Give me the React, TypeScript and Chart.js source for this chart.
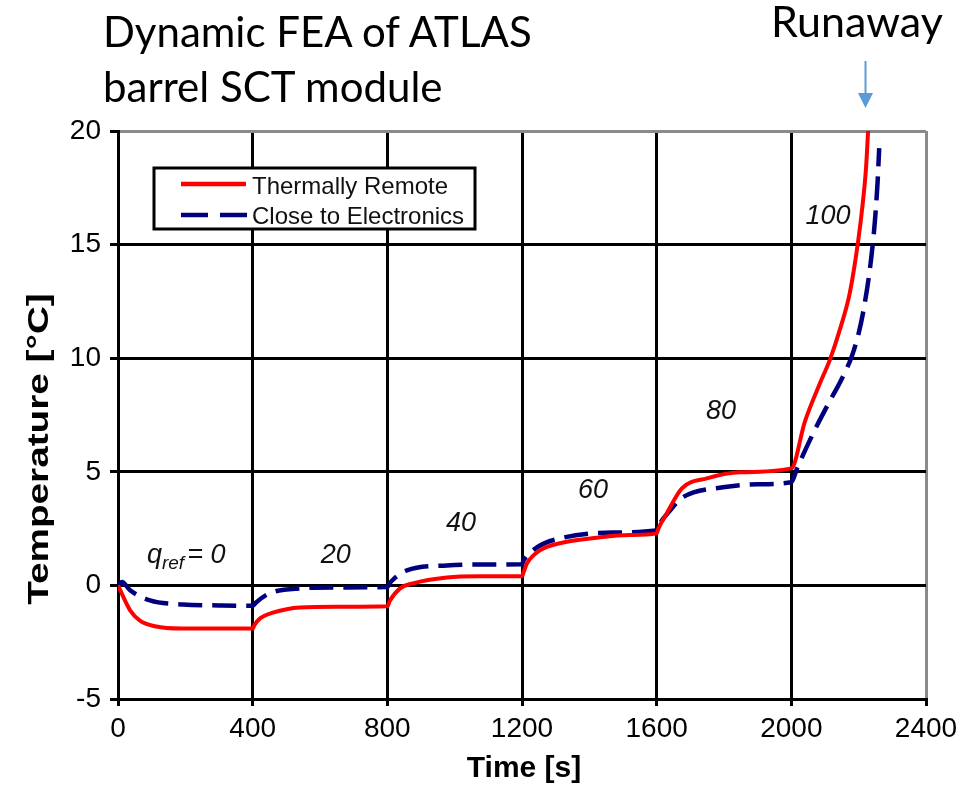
import React, { useEffect, useRef } from "react";
import { Chart, registerables } from "chart.js";
Chart.register(...registerables);

// ---------- data ----------
const xTicks = [0, 400, 800, 1200, 1600, 2000, 2400];
const yTicks = [-5, 0, 5, 10, 15, 20];
const seriesNames = ["Thermally Remote", "Close to Electronics"];

const remoteTime = [0, 36, 65, 110, 190, 300, 400, 405, 422, 460, 540, 650, 800, 808, 838, 876, 977, 1075, 1200, 1205, 1215, 1253, 1322, 1422, 1520, 1600, 1605, 1630, 1675, 1749, 1848, 2000, 2040, 2085, 2115, 2145, 2174, 2198, 2212, 2222, 2228];
const remoteTemp = [0, -1.1, -1.55, -1.8, -1.9, -1.9, -1.9, -1.75, -1.45, -1.2, -0.97, -0.94, -0.92, -0.66, -0.13, 0.09, 0.35, 0.4, 0.4, 0.6, 0.97, 1.54, 1.89, 2.1, 2.22, 2.29, 2.5, 3.17, 4.27, 4.71, 4.98, 5.15, 7.2, 8.9, 9.95, 11.3, 12.9, 15.1, 16.8, 18.4, 20];

const closeTime = [0, 12, 35, 95, 193, 300, 400, 410, 450, 540, 650, 800, 805, 820, 858, 977, 1100, 1200, 1205, 1244, 1322, 1470, 1600, 1605, 1640, 1678, 1797, 1900, 2000, 2017, 2065, 2110, 2150, 2180, 2200, 2213, 2234, 2248, 2256, 2261];
const closeTemp = [0, 0.15, -0.2, -0.66, -0.84, -0.88, -0.9, -0.75, -0.35, -0.13, -0.09, -0.07, 0.05, 0.3, 0.66, 0.88, 0.92, 0.93, 1.1, 1.67, 2.1, 2.33, 2.42, 2.6, 3.3, 3.88, 4.32, 4.45, 4.54, 5.15, 6.7, 8.0, 9.1, 10.1, 11.1, 12.0, 14.0, 16.0, 17.7, 19.25];

// q_ref stage annotations (label, anchor time, anchor temperature)
const stageLabels = ["0", "20", "40", "60", "80", "100"];
const stageTime = [86, 647, 1019, 1411, 1791, 2109];
const stageTemp = [1.32, 1.32, 2.73, 4.18, 7.66, 16.24];

const RED = "#ff0000";
const NAVY = "#00007f";
const FONT = "Arial, 'Liberation Sans', Helvetica, sans-serif";

const overlay = {
  id: "overlay",
  afterDatasetsDraw(chart: any) {
    const ctx = chart.ctx;
    const xs = chart.scales.x;
    const ys = chart.scales.y;
    const ca = chart.chartArea;
    ctx.save();

    // stage labels
    ctx.fillStyle = "#111";
    ctx.textBaseline = "middle";
    stageLabels.forEach((lab, i) => {
      const px = xs.getPixelForValue(stageTime[i]);
      const py = ys.getPixelForValue(stageTemp[i]);
      if (i === 0) {
        ctx.textAlign = "left";
        ctx.font = `italic 27px ${FONT}`;
        ctx.fillText("q", px, py);
        let w = ctx.measureText("q").width;
        ctx.font = `italic 19px ${FONT}`;
        ctx.fillText("ref", px + w, py + 8);
        w += ctx.measureText("ref").width + 3;
        ctx.font = `italic 27px ${FONT}`;
        ctx.fillText("= " + lab, px + w, py);
      } else {
        ctx.textAlign = "center";
        ctx.font = `italic 27px ${FONT}`;
        ctx.fillText(lab, px, py);
      }
    });

    // legend box
    const bx = ca.left + 36, by = ca.top + 37, bw = 321, bh = 61;
    ctx.fillStyle = "#fff";
    ctx.fillRect(bx, by, bw, bh);
    ctx.strokeStyle = "#000";
    ctx.lineWidth = 3;
    ctx.strokeRect(bx, by, bw, bh);
    ctx.lineWidth = 4.5;
    ctx.strokeStyle = RED;
    ctx.beginPath();
    ctx.moveTo(bx + 27, by + 16);
    ctx.lineTo(bx + 92, by + 16);
    ctx.stroke();
    ctx.strokeStyle = NAVY;
    ctx.setLineDash([27, 12]);
    ctx.beginPath();
    ctx.moveTo(bx + 27, by + 47);
    ctx.lineTo(bx + 93, by + 47);
    ctx.stroke();
    ctx.setLineDash([]);
    ctx.fillStyle = "#111";
    ctx.font = `24px ${FONT}`;
    ctx.textAlign = "left";
    ctx.textBaseline = "alphabetic";
    ctx.fillText(seriesNames[0], bx + 98, by + 26);
    ctx.fillText(seriesNames[1], bx + 98, by + 56);

    // axis titles
    ctx.fillStyle = "#000";
    ctx.font = `bold 30px ${FONT}`;
    ctx.textAlign = "center";
    ctx.textBaseline = "alphabetic";
    ctx.fillText("Time [s]", (ca.left + ca.right) / 2 + 2, 777);
    ctx.save();
    ctx.translate(48, (ca.top + ca.bottom) / 2 + 34);
    ctx.rotate(-Math.PI / 2);
    ctx.scale(1.29, 1);
    ctx.fillText("Temperature [°C]", 0, 0);
    ctx.restore();

    ctx.restore();
  },
};

export default function App() {
  const ref = useRef<HTMLCanvasElement>(null);
  useEffect(() => {
    if (!ref.current) return;
    const chart = new Chart(ref.current, {
      type: "line",
      data: {
        datasets: [
          {
            label: seriesNames[0],
            data: remoteTime.map((t, i) => ({ x: t, y: remoteTemp[i] })),
            borderColor: RED,
            borderWidth: 4,
            pointRadius: 0,
            cubicInterpolationMode: "monotone",
            fill: false,
          },
          {
            label: seriesNames[1],
            data: closeTime.map((t, i) => ({ x: t, y: closeTemp[i] })),
            borderColor: NAVY,
            borderWidth: 4.5,
            borderDash: [24, 10],
            pointRadius: 0,
            cubicInterpolationMode: "monotone",
            fill: false,
          },
        ],
      },
      options: {
        animation: false,
        responsive: false,
        devicePixelRatio: 1,
        layout: { padding: { top: 131, right: 54, left: 0, bottom: 0 } },
        plugins: { legend: { display: false }, tooltip: { enabled: false } },
        scales: {
          x: {
            type: "linear",
            min: xTicks[0],
            max: xTicks[xTicks.length - 1],
            afterBuildTicks: (s: any) => {
              s.ticks = xTicks.map((v) => ({ value: v }));
            },
            afterFit: (s: any) => {
              s.height = 87;
            },
            ticks: {
              color: "#000",
              font: { family: FONT, size: 28 },
              padding: 6,
              maxRotation: 0,
              autoSkip: false,
              callback: (v: any) => String(v),
            },
            grid: {
              color: (c: any) => (c.tick && c.tick.value === 2400 ? "#8a8a8a" : "#000"),
              tickColor: "#000",
              lineWidth: 3,
              tickLength: 7,
            },
            border: { color: "#000", width: 3 },
          },
          y: {
            type: "linear",
            min: yTicks[0],
            max: yTicks[yTicks.length - 1],
            afterBuildTicks: (s: any) => {
              s.ticks = yTicks.map((v) => ({ value: v }));
            },
            afterFit: (s: any) => {
              s.width = 118;
            },
            ticks: {
              color: "#000",
              font: { family: FONT, size: 28 },
              padding: 9,
              autoSkip: false,
              callback: (v: any) => String(v),
            },
            grid: {
              color: (c: any) => (c.tick && c.tick.value === 20 ? "#8a8a8a" : "#000"),
              tickColor: "#000",
              lineWidth: 3,
              tickLength: 8,
            },
            border: { color: "#000", width: 3 },
          },
        },
      },
      plugins: [overlay],
    });
    return () => chart.destroy();
  }, []);

  return (
    <div style={{ position: "fixed", left: 0, top: 0, width: 980, height: 786, background: "#fff" }}>
      <canvas ref={ref} width={980} height={786} style={{ position: "absolute", left: 0, top: 0, width: 980, height: 786 }} />
      <div
        style={{
          position: "absolute",
          left: 103,
          top: 4,
          fontFamily: "Lato, 'Open Sans', sans-serif",
          fontSize: 42,
          lineHeight: "55px",
          color: "#000",
          whiteSpace: "nowrap",
        }}
      >
        Dynamic FEA of ATLAS
        <br />
        barrel SCT module
      </div>
      <div
        style={{
          position: "absolute",
          left: 771,
          top: -7,
          fontFamily: "Lato, 'Open Sans', sans-serif",
          fontSize: 43,
          lineHeight: "55px",
          color: "#000",
          whiteSpace: "nowrap",
        }}
      >
        Runaway
      </div>
      <svg style={{ position: "absolute", left: 850, top: 55 }} width={32} height={60}>
        <line x1={15.5} y1={6} x2={15.5} y2={42} stroke="#5b9bd5" strokeWidth={2} />
        <polygon points="8,38 23,38 15.5,53" fill="#5b9bd5" />
      </svg>
    </div>
  );
}
